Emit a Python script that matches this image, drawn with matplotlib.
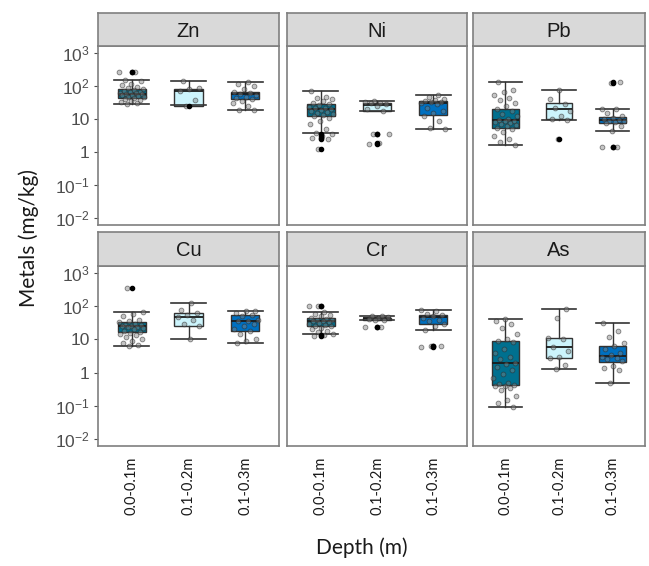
import numpy as np
import matplotlib
matplotlib.use("Agg")
import matplotlib.pyplot as plt

plt.rcParams['font.family'] = ['Liberation Sans', 'DejaVu Sans']
plt.rcParams['mathtext.fontset'] = 'custom'
plt.rcParams['mathtext.rm'] = 'Liberation Sans'
plt.rcParams['mathtext.it'] = 'Liberation Sans'

# donnees
depths = ['0.0-0.1m', '0.1-0.2m', '0.1-0.3m']
metals = ['Zn', 'Ni', 'Pb', 'Cu', 'Cr', 'As']
colors = ['#00708F', '#CCF4FC', '#0070C0']

# (whisker bas, q1, mediane, q3, whisker haut) par profondeur
box_zn = [(29, 45, 59, 81, 155), (26, 25, 73, 83, 145), (19, 40, 56, 67, 134)]
box_ni = [(3.7, 12, 20.5, 28, 69), (17, 17, 27, 30, 35), (5, 13.5, 30, 35, 55)]
box_pb = [(1.6, 5.5, 9.3, 20, 134), (9.5, 9.8, 19.6, 31, 74), (4.4, 7.4, 9.3, 11.5, 20.5)]
box_cu = [(6.4, 16.7, 25, 33, 68), (10.5, 26, 48, 63, 123), (7.9, 18, 36, 55, 72)]
box_cr = [(15, 25, 35, 43, 69), (39, 39, 43, 46, 52), (19, 30, 47, 55, 80)]
box_as = [(0.093, 0.41, 1.9, 8.7, 41), (1.3, 2.7, 5.9, 11.3, 86), (0.49, 2.1, 3.2, 6.4, 31)]

pts_zn = [[270, 265, 155, 140, 120, 110, 95, 85, 80, 75, 72, 68, 65, 62, 60, 58, 56, 55, 52,
           50, 48, 47, 45, 42, 38, 35, 33, 30, 29],
          [145, 90, 80, 70, 38, 25],
          [134, 120, 100, 80, 67, 60, 56, 52, 48, 44, 40, 35, 30, 25, 19, 19]]
pts_ni = [[69, 48, 45, 40, 35, 30, 28, 26, 24, 22, 21, 20, 19, 18, 16, 15, 14, 13, 12, 11, 9,
           7, 5, 3.7, 3.5, 3.0, 2.6, 2.5, 1.2],
          [35, 33, 31, 30, 28, 25, 20, 17, 3.6, 3.5, 1.9, 1.8],
          [55, 48, 42, 38, 35, 34, 32, 30, 28, 22, 18, 15, 12, 9, 5.5, 5]]
pts_pb = [[134, 75, 65, 55, 45, 38, 30, 25, 20, 18, 14, 12, 10, 9.5, 9, 8.5, 8, 7.5, 7, 6.5,
           6, 5.5, 5, 4, 3, 2.5, 2, 1.6],
          [74, 40, 28, 22, 18, 12, 10, 9.5, 2.5],
          [130, 126, 20.5, 20, 15, 12, 11, 10, 9.5, 9, 8.5, 8, 7.5, 6, 4.4, 1.4, 1.4]]
pts_cu = [[355, 68, 60, 50, 40, 35, 33, 30, 28, 27, 26, 25, 24, 23, 22, 20, 18, 17, 16, 15,
           14, 12, 10, 9, 8, 7, 6.4],
          [123, 80, 63, 55, 48, 40, 30, 26, 10.5],
          [72, 70, 65, 55, 50, 40, 36, 35, 30, 25, 20, 18, 15, 10, 9, 7.9]]
pts_cr = [[103, 100, 69, 60, 55, 50, 45, 42, 40, 38, 36, 35, 34, 32, 30, 28, 26, 25, 22, 20,
           18, 17, 15, 14, 13],
          [52, 50, 47, 44, 42, 40, 39, 23, 23],
          [80, 70, 60, 55, 50, 45, 40, 35, 30, 25, 19, 6.2, 6.3, 6.0]]
pts_as = [[41, 35, 30, 22, 15, 10, 9, 8.5, 5, 4, 3, 2.5, 2, 1.8, 1.5, 1.2, 0.9, 0.7, 0.5,
           0.45, 0.42, 0.4, 0.38, 0.35, 0.3, 0.2, 0.15, 0.12, 0.093],
          [86, 45, 11, 10, 6, 4.5, 3, 2.7, 1.7, 1.3],
          [31, 18, 12, 8, 6.4, 5, 4, 3.5, 3, 2.8, 2.5, 2.2, 1.6, 1.4, 1.2, 0.49]]

boxes = [box_zn, box_ni, box_pb, box_cu, box_cr, box_as]
points = [pts_zn, pts_ni, pts_pb, pts_cu, pts_cr, pts_as]

W, H = 649, 566
lefts = [98, 287, 473]
widths = [181, 180, 172]
rows = [(13, 46, 225), (232, 266, 446)]  # haut strip, haut panneau, bas panneau

fig = plt.figure(figsize=(W / 100, H / 100), dpi=100)
border = '#7F7F7F'

for m in range(6):
    r, c = m // 3, m % 3
    st, top, bot = rows[r]
    ax = fig.add_axes([lefts[c] / W, 1 - bot / H, widths[c] / W, (bot - top) / H])
    sax = fig.add_axes([lefts[c] / W, 1 - top / H, widths[c] / W, (top - st) / H])

    stats = []
    for g in range(3):
        lo, q1, med, q3, hi = boxes[m][g]
        stats.append(dict(whislo=lo, q1=q1, med=med, q3=q3, whishi=hi, fliers=[]))
    bp = ax.bxp(stats, positions=[1, 2, 3], widths=0.5, capwidths=0.62, patch_artist=True,
                showfliers=False,
                boxprops=dict(edgecolor='#333333', linewidth=1.0),
                medianprops=dict(color='#1a1a1a', linewidth=1.3),
                whiskerprops=dict(color='#333333', linewidth=1.0),
                capprops=dict(color='#333333', linewidth=1.2))
    for patch, col in zip(bp['boxes'], colors):
        patch.set_facecolor(col)

    for g in range(3):
        vals = np.array(points[m][g], dtype=float)
        k = np.arange(len(vals))
        off = ((k * 0.6180339 + 0.3 * g + 0.1 * m) % 1 - 0.5) * 0.45
        ax.scatter(g + 1 + off, vals, s=12, facecolor=(0.5, 0.5, 0.5, 0.45),
                   edgecolor=(0.15, 0.15, 0.15, 0.55), linewidth=0.6, zorder=4)
        lo, hi = boxes[m][g][0], boxes[m][g][4]
        out = vals[(vals > hi * 1.02) | (vals < lo * 0.98)]
        ax.scatter(np.full(len(out), g + 1), out, s=9, color='black', zorder=5)

    ax.set_yscale('log')
    ax.set_ylim(10 ** -2.22, 10 ** 3.22)
    ax.set_xlim(0.4, 3.6)
    ax.minorticks_off()
    ax.set_yticks([1e-2, 1e-1, 1, 10, 1e2, 1e3])
    if c == 0:
        ax.set_yticklabels(['$10^{-2}$', '$10^{-1}$', '1', '10', '$10^{2}$', '$10^{3}$'],
                           fontsize=12.5, color='#4D4D4D')
        ax.tick_params(axis='y', length=3, width=0.8, color='#4D4D4D', pad=3)
    else:
        ax.tick_params(axis='y', left=False, labelleft=False)
    ax.set_xticks([1, 2, 3])
    if r == 1:
        ax.set_xticklabels(depths, rotation=90, fontsize=10.5, color='#1a1a1a', family='Lato')
        ax.tick_params(axis='x', length=0, pad=8)
    else:
        ax.tick_params(axis='x', bottom=False, labelbottom=False)
    for sp in ax.spines.values():
        sp.set_color(border)
        sp.set_linewidth(1.2)

    sax.set_facecolor('#D9D9D9')
    sax.set_xticks([])
    sax.set_yticks([])
    for sp in sax.spines.values():
        sp.set_color(border)
        sp.set_linewidth(1.2)
    sax.text(0.5, 0.45, metals[m], ha='center', va='center', fontsize=14.5,
             color='#1a1a1a', transform=sax.transAxes)

fig.text(362 / W, 1 - 548 / H, 'Depth (m)', ha='center', va='center', fontsize=15,
         family='Lato', color='#1a1a1a')
fig.text(29 / W, 1 - 238 / H, 'Metals (mg/kg)', ha='center', va='center', fontsize=15,
         family='Lato', color='#1a1a1a', rotation=90)

fig.savefig('out.png', dpi=100)
